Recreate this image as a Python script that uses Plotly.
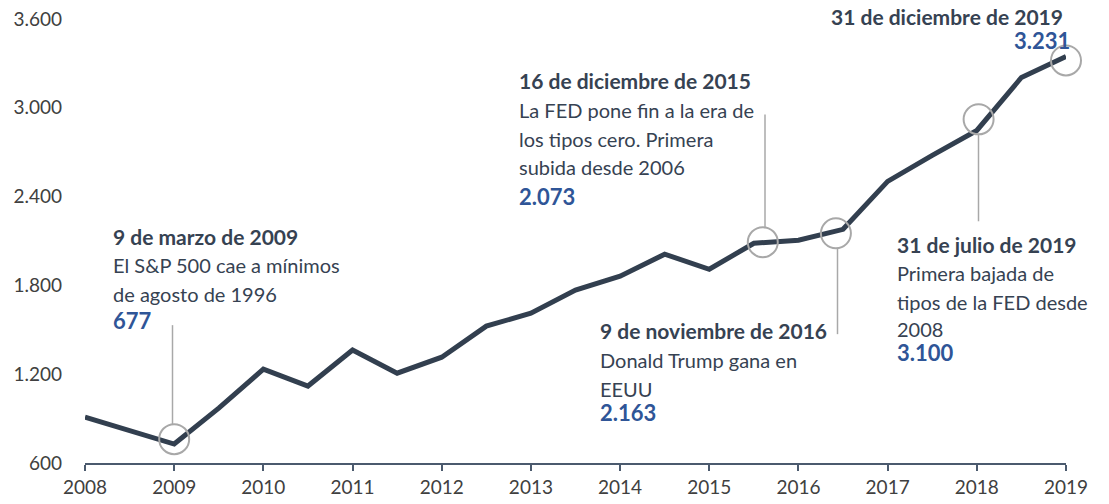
import plotly.graph_objects as go

# ---- data (semi-annual index level) ----
YEARS = [2008, 2008.5, 2009, 2009.5, 2010, 2010.5, 2011, 2011.5, 2012, 2012.5,
         2013, 2013.5, 2014, 2014.5, 2015, 2015.5, 2016, 2016.5, 2017, 2017.5,
         2018, 2018.5, 2019]
VALUES = [910, 819, 728, 971, 1234, 1120, 1363, 1207, 1315, 1525,
          1612, 1768, 1862, 2011, 1909, 2085, 2105, 2179, 2503, 2679,
          2847, 3205, 3347]

# highlighted events (circle markers)
EVENT_X = [2009.0, 2015.6, 2016.42, 2018.02, 2019.0]
EVENT_Y = [761, 2092, 2152, 2922, 3320]

TICK_YEARS = list(range(2008, 2020))
Y_TICKS = [600, 1200, 1800, 2400, 3000, 3600]

# ---- layout geometry (page pixels) ----
PAGE_W, PAGE_H = 1109, 504
L, R_EDGE = 85, 1066
TOP, BOT = 18.5, 463

def px(x):
    return (x - L) / (R_EDGE - L)

def py(y):
    return (BOT - y) / (BOT - TOP)

NAVY = "#323F4F"
TEXT = "#364252"
BLUE = "#2F5597"
GREY = "#A8A8A8"
TICKC = "#404040"
FONT = "Lato"

fig = go.Figure()
fig.add_trace(go.Scatter(x=YEARS, y=VALUES, mode="lines",
                         line=dict(color=NAVY, width=5), hoverinfo="skip",
                         cliponaxis=False))
fig.add_trace(go.Scatter(x=EVENT_X, y=EVENT_Y, mode="markers",
                         marker=dict(symbol="circle-open", size=30,
                                     line=dict(color=GREY, width=2), color=GREY),
                         hoverinfo="skip", cliponaxis=False))

annotations = []

def line(text, x, y, kind="body", anchor="left"):
    if kind == "title":
        font = dict(family=FONT, size=21, color=TEXT)
        text = "<b>%s</b>" % text
    elif kind == "num":
        font = dict(family=FONT, size=22, color=BLUE)
        text = "<b>%s</b>" % text
    else:
        font = dict(family=FONT, size=20, color=TEXT)
    annotations.append(dict(text=text, x=px(x), y=py(y), xref="paper", yref="paper",
                            xanchor=anchor, yanchor="middle", showarrow=False,
                            borderpad=0, font=font))

line("9 de marzo de 2009", 112, 236, "title")
line("El S&P 500 cae a mínimos", 112, 265)
line("de agosto de 1996", 112, 294)
line("677", 112, 320, "num")

line("16 de diciembre de 2015", 518, 80, "title")
line("La FED pone fin a la era de", 518, 110)
line("los tipos cero. Primera", 518, 139)
line("subida desde 2006", 518, 167)
line("2.073", 518, 196, "num")

line("9 de noviembre de 2016", 599, 330, "title")
line("Donald Trump gana en", 599, 360)
line("EEUU", 599, 389)
line("2.163", 599, 412, "num")

line("31 de julio de 2019", 896, 244, "title")
line("Primera bajada de", 896, 273)
line("tipos de la FED desde", 896, 302)
line("2008", 896, 329)
line("3.100", 896, 352, "num")

line("31 de diciembre de 2019", 1064, 16, "title", anchor="right")
line("3.231", 1071, 40, "num", anchor="right")

shapes = []
for (x, y0, y1) in [(172.5, 325, 424), (765, 114, 228), (837.5, 248, 334), (978.5, 134, 221)]:
    shapes.append(dict(type="line", xref="paper", yref="paper",
                       x0=px(x), x1=px(x), y0=py(y0), y1=py(y1),
                       line=dict(color=GREY, width=1.5)))

fig.update_layout(
    width=PAGE_W, height=PAGE_H,
    margin=dict(l=L, r=PAGE_W - R_EDGE, t=TOP, b=PAGE_H - BOT, autoexpand=False),
    paper_bgcolor="white", plot_bgcolor="white",
    showlegend=False,
    separators=",.",
    font=dict(family=FONT, color=TICKC),
    annotations=annotations,
    shapes=shapes,
    xaxis=dict(range=[2008, 2019], tickvals=TICK_YEARS,
               ticktext=[str(t) for t in TICK_YEARS],
               showgrid=False, zeroline=False, showline=True,
               linecolor="#4B5A6E", linewidth=2,
               ticks="outside", ticklen=6, tickwidth=2, tickcolor="#4B5A6E",
               tickfont=dict(family=FONT, size=19, color=TICKC)),
    yaxis=dict(range=[600, 3600], tickvals=Y_TICKS, tickformat=",d",
               showgrid=False, zeroline=False, showline=False,
               ticks="", ticklabelstandoff=22, ticklabeloverflow="allow",
               tickfont=dict(family=FONT, size=19, color=TICKC)),
)

fig.write_html("out.html",
               config={"displayModeBar": False, "staticPlot": True},
               post_script="document.body.style.margin='0';document.body.style.overflow='hidden';")
